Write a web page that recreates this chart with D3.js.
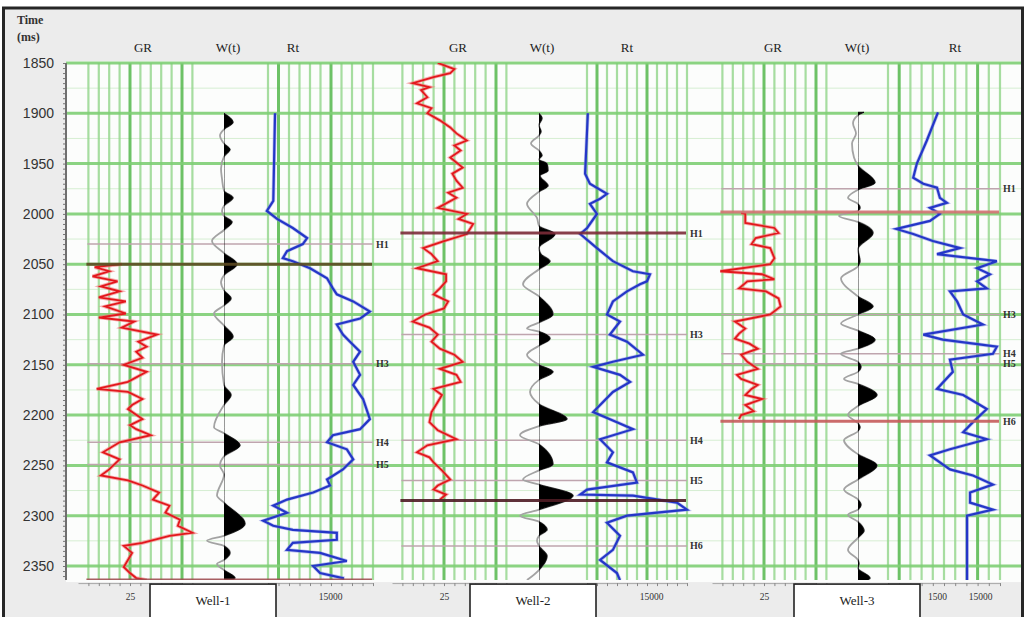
<!DOCTYPE html>
<html>
<head>
<meta charset="utf-8">
<script src="https://cdn.jsdelivr.net/npm/d3@7"></script>
<style>
  body { margin: 0; background: #fff; }
  svg { display: block; }
</style>
</head>
<body>
<svg id="chart" width="1027" height="617"></svg>
<script>
// ---- data ----
var timeTicks = [1850, 1900, 1950, 2000, 2050, 2100, 2150, 2200, 2250, 2300, 2350];
var minorGridTimes = [1875, 1925, 1975, 2025, 2075, 2125, 2175, 2225, 2275, 2325];
var trackNames = ["GR", "W(t)", "Rt"];
var wellNames = ["Well-1", "Well-2", "Well-3"];
var grGrid = [5, 10, 15, 20, 25, 30, 35, 40, 45, 50, 55];
var grMajor = [25, 50];
var grLabels = [25];
var rtGridSteps = [0, 1, 2, 3, 4, 5, 6, 7, 8, 9, 10];
var rtLabels1 = [15000];
var rtLabels2 = [15000];
var rtLabels3 = [1500, 15000];

// GR (API) vs time (ms)
var gr1 = [[2050,21],[2053,8],[2057,15],[2062,7],[2067,19],[2072,11],[2077,20],[2083,10],[2087,23],[2092,13],
  [2099,23],[2103,10],[2107,27],[2113,21],[2120,38],[2127,29],[2132,33],[2137,28],[2143,31],[2150,22],[2157,33],
  [2167,24],[2174,9],[2177,24],[2184,31],[2190,26],[2194,24],[2204,31],[2210,25],[2214,28],[2220,35],[2227,20],
  [2237,12],[2244,20],[2254,15],[2260,11],[2265,24],[2270,31],[2277,39],[2284,36],[2290,44],[2297,42],[2304,49],
  [2310,48],[2317,55],[2320,44],[2327,31],[2330,22],[2337,26],[2344,24],[2351,22],[2357,25],[2362,28],[2364,33]];
var gr2 = [[1850,22],[1856,30],[1860,28],[1864,20],[1870,10],[1874,18],[1877,14],[1884,17],[1890,12],[1895,19],
  [1900,17],[1907,23],[1914,28],[1920,31],[1927,36],[1932,30],[1937,33],[1944,28],[1954,34],[1960,29],[1967,31],
  [1974,34],[1979,27],[1984,31],[1994,22],[2000,36],[2005,32],[2010,39],[2020,36],[2027,25],[2034,15],[2040,19],
  [2047,22],[2054,12],[2060,26],[2067,26],[2074,23],[2080,20],[2087,27],[2094,25],[2100,16],[2107,10],[2113,18],
  [2120,22],[2127,19],[2134,23],[2140,30],[2147,34],[2154,23],[2160,31],[2167,33],[2174,20],[2180,24],[2187,22],
  [2197,19],[2207,18],[2215,22],[2224,31],[2230,17],[2237,12],[2242,18],[2247,20],[2255,24],[2264,28],[2270,22],
  [2274,20],[2279,26],[2284,23]];
var gr3 = [[1999,14],[2000,16],[2009,16],[2014,30],[2019,32],[2024,21],[2030,19],[2034,28],[2044,30],[2050,28],
  [2057,4],[2060,24],[2065,30],[2067,17],[2074,13],[2077,26],[2084,32],[2092,33],[2100,28],[2107,11],[2114,16],
  [2119,13],[2124,11],[2129,18],[2134,22],[2140,14],[2147,17],[2154,22],[2160,12],[2164,14],[2170,22],[2174,19],
  [2180,16],[2184,24],[2190,16],[2196,20],[2200,14],[2204,13]];

// W(t) seismic trace amplitude vs time (ms)
var wt1 = [[1900,0],[1909,0.45],[1916,0],[1922,-0.2],[1930,0],[1936,0.3],[1943,0],[1955,-0.15],[1965,-0.1],
  [1977,0],[1984,0.45],[1992,0],[1997,-0.1],[2002,0],[2008,0.4],[2016,0],[2027,-0.6],[2039,0],[2050,0.65],[2061,0],
  [2068,-0.15],[2076,0],[2084,0.35],[2091,0],[2099,-0.5],[2111,0],[2122,0.45],[2131,0],[2147,-0.1],[2170,0],
  [2180,0.35],[2190,0],[2212,-0.5],[2218,0],[2230,0.8],[2241,0],[2250,-0.2],[2259,0],[2280,-0.35],[2287,0],
  [2308,1.05],[2320,0],[2325,-0.85],[2330,0],[2337,0.3],[2344,0],[2348,-0.35],[2354,0],[2362,0.55],[2364,0.4]];
var wt2 = [[1900,0],[1905,0.15],[1912,0],[1918,0.1],[1922,0],[1930,-0.4],[1937,0],[1942,0.15],[1946,0],[1950,0.4],
  [1957,0.45],[1962,0.05],[1972,0.45],[1978,0],[1990,-0.6],[2004,-0.1],[2012,0],[2020,0.8],[2034,0],[2040,0.1],
  [2047,0.55],[2055,0],[2070,-0.8],[2082,0],[2100,0.7],[2108,0],[2114,-0.6],[2117,0],[2124,0.55],[2131,0],
  [2140,-0.6],[2150,0],[2157,0.7],[2165,0],[2177,-0.45],[2189,0],[2204,1.4],[2211,0],[2220,-0.95],[2229,0],
  [2249,0.7],[2255,0],[2264,-0.8],[2269,0],[2280,1.7],[2294,0],[2300,-0.95],[2306,0],[2314,0.4],[2320,0],
  [2325,-0.1],[2330,0],[2340,0.4],[2354,0],[2364,-0.6]];
var wt3 = [[1899,0.3],[1902,0],[1910,-0.25],[1920,-0.1],[1930,-0.3],[1944,-0.2],[1952,0],[1969,0.85],[1976,0],
  [1984,-0.5],[1990,0],[1994,0.1],[1997,0],[2002,-0.95],[2008,0],[2019,0.75],[2035,0],[2047,0.1],[2052,0],
  [2064,-0.85],[2082,0],[2092,0.75],[2100,0],[2109,-0.85],[2116,0],[2125,0.85],[2134,0],[2139,-0.85],[2147,0],
  [2152,0.15],[2157,0],[2164,-0.7],[2169,0],[2180,0.95],[2191,0],[2200,-0.5],[2208,0],[2212,0.1],[2216,0],
  [2225,-0.7],[2239,0],[2250,0.95],[2264,0],[2274,-0.7],[2284,0],[2289,0.15],[2294,0],[2299,-0.5],[2306,0],
  [2315,0.3],[2322,0],[2334,-0.5],[2344,0],[2348,0.05],[2352,0],[2362,0.6],[2364,0.5]];

// Rt (ohm.m) vs time (ms)
var rt1 = [[1900,790],[1987,720],[1997,510],[2005,880],[2014,2050],[2024,4400],[2030,3500],[2037,1500],[2044,1200],
  [2047,2050],[2054,5150],[2064,12800],[2074,17500],[2080,21600],[2087,52000],[2097,127000],[2104,75000],
  [2110,21600],[2120,30000],[2127,43800],[2137,75000],[2147,52000],[2160,75000],[2170,52000],[2184,88000],
  [2204,127000],[2214,75000],[2220,17500],[2227,12800],[2234,37000],[2244,52000],[2254,30000],[2264,12800],
  [2270,15000],[2277,6100],[2284,1500],[2290,720],[2297,1500],[2305,420],[2310,720],[2314,2050],[2317,21600],
  [2324,21600],[2327,2050],[2334,1500],[2337,8800],[2345,37000],[2350,6100],[2357,8800],[2362,30000],[2364,30000]];
var rt2 = [[1900,510],[1960,440],[1970,570],[1980,1420],[1985,980],[1990,570],[2000,830],[2014,490],[2020,340],
  [2034,830],[2047,1950],[2057,5700],[2060,14200],[2067,12100],[2070,8300],[2077,4150],[2087,1950],[2100,1420],
  [2107,2850],[2120,1660],[2127,4150],[2140,9750],[2147,1950],[2152,680],[2160,2850],[2167,4900],[2177,1950],
  [2197,680],[2207,2420],[2214,5700],[2224,980],[2237,1950],[2247,1420],[2257,5700],[2267,7070],[2274,490],
  [2279,340],[2280,5700],[2287,60000],[2294,103000],[2300,4150],[2307,1420],[2320,2850],[2334,1950],[2344,980],
  [2357,2420],[2364,2850]];
var rt3 = [[1899,1580],[1927,870],[1950,510],[1964,420],[1970,720],[1974,1500],[1984,1750],[1989,2550],[1994,1030],
  [2000,1750],[2007,1030],[2015,170],[2020,420],[2027,1200],[2034,5150],[2040,1500],[2047,37000],[2054,12800],
  [2060,25600],[2067,12800],[2074,21600],[2077,3000],[2087,4400],[2100,6100],[2110,17500],[2120,720],[2125,2050],
  [2132,37000],[2139,30000],[2145,3000],[2157,3500],[2174,1500],[2180,6100],[2194,21600],[2207,10300],[2217,6100],
  [2224,21600],[2234,3000],[2240,1030],[2254,3000],[2260,10300],[2269,30000],[2277,8800],[2287,8800],[2294,30000],
  [2300,7500],[2364,7500]];

// horizons (ms)
var topNames1 = ["H1", "H3", "H4", "H5"];
var topTimes1 = [2030, 2149, 2227, 2249];
var picks1 = [2050, 2364];
var topNames2 = ["H1", "H3", "H4", "H5", "H6"];
var topTimes2 = [2019, 2120, 2225, 2265, 2330];
var picks2 = [2019, 2285];
var topNames3 = ["H1", "H3", "H4", "H5", "H6"];
var topTimes3 = [1975, 2100, 2139, 2149, 2206];
var picks3 = [1998, 2206];

// ---- layout (pixels / styles) ----
var layout = [
  {gr0: 78, wx: 224, rtL: 268, rtR: 373, rtMajor: [1, 6], x15: 330, tag: 376, box: 213, hdr: [143, 228, 293],
   pick: ["#5c4a22", "#a04f52"]},
  {gr0: 392, wx: 539, rtL: 587, rtR: 687, rtMajor: [1, 6], x15: 651, tag: 690, box: 533, hdr: [458, 542, 627],
   pick: ["#7c2c38", "#4f1c24"]},
  {gr0: 712, wx: 858, rtL: 888, rtR: 1000, rtMajor: [1, 8], x15: 980, tag: 1003, box: 857, hdr: [773, 857, 955],
   pick: ["#d27272", "#c65c5c"]}
];
var wells = [
  {gr: gr1, wt: wt1, rt: rt1, names: topNames1, times: topTimes1, picks: picks1, rtLabels: rtLabels1},
  {gr: gr2, wt: wt2, rt: rt2, names: topNames2, times: topTimes2, picks: picks2, rtLabels: rtLabels2},
  {gr: gr3, wt: wt3, rt: rt3, names: topNames3, times: topTimes3, picks: picks3, rtLabels: rtLabels3}
];

var serif = "'Liberation Serif', 'Times New Roman', serif";
var sans = "'Liberation Sans', Arial, sans-serif";
var svg = d3.select("#chart");

var y = d3.scaleLinear().domain([1850, 2350]).range([63, 566]);
var tTop = 1850, tBot = 2364;
var plotL = 66, plotR = 1021;
var yTop = y(tTop), yBot = y(tBot);

// frame and plot background
svg.append("rect").attr("width", 1027).attr("height", 617).attr("fill", "#fff");
svg.append("rect").attr("x", 3.5).attr("y", 8).attr("width", 1019).attr("height", 640)
  .attr("fill", "#ececec").attr("stroke", "#262626").attr("stroke-width", 3);
svg.append("rect").attr("x", plotL).attr("y", yTop - 2).attr("width", plotR - plotL)
  .attr("height", yBot - yTop + 4).attr("fill", "#fcfdfc");

var defs = svg.append("defs");
defs.append("clipPath").attr("id", "plotClip").append("rect")
  .attr("x", plotL).attr("y", yTop).attr("width", plotR - plotL).attr("height", yBot - yTop);

// faint minor horizontal grid
svg.append("g").selectAll("line").data(minorGridTimes).join("line")
  .attr("x1", plotL).attr("x2", plotR).attr("y1", d => y(d)).attr("y2", d => y(d))
  .attr("stroke", "#d6eed2").attr("stroke-width", 1);

var vGrid = svg.append("g");
var marks = svg.append("g").attr("clip-path", "url(#plotClip)");
var overlay = svg.append("g");

wells.forEach(function(w, i) {
  var L = layout[i];
  var gr = d3.scaleLinear().domain([0, 50]).range([L.gr0, L.gr0 + 104]);
  var rt = d3.scaleLog().domain([1500, 15000]).range([L.x15 - 43, L.x15]);
  var wt = d3.scaleLinear().domain([-1, 1]).range([L.wx - 20, L.wx + 20]);
  var rtGrid = d3.scaleLinear().domain([0, 10]).range([L.rtL, L.rtR]);
  var left = gr(5) - 1;

  // vertical grid: GR track and Rt track
  vGrid.append("g").selectAll("line").data(grGrid).join("line")
    .attr("x1", d => gr(d)).attr("x2", d => gr(d)).attr("y1", yTop).attr("y2", yBot)
    .attr("stroke", d => grMajor.includes(d) ? "#55b84c" : "#98d890")
    .attr("stroke-width", d => grMajor.includes(d) ? 3 : 2.2).attr("opacity", 0.85);
  vGrid.append("g").selectAll("line").data(rtGridSteps).join("line")
    .attr("x1", d => rtGrid(d)).attr("x2", d => rtGrid(d)).attr("y1", yTop).attr("y2", yBot)
    .attr("stroke", d => L.rtMajor.includes(d) ? "#55b84c" : "#98d890")
    .attr("stroke-width", d => L.rtMajor.includes(d) ? 3 : 2.2).attr("opacity", 0.85);

  // thin horizon lines
  var thin = w.times.filter(t => !w.picks.includes(t));
  marks.append("g").selectAll("line").data(thin).join("line")
    .attr("x1", left).attr("x2", L.tag - 3).attr("y1", d => y(d)).attr("y2", d => y(d))
    .attr("stroke", "#bfa5ae").attr("stroke-width", 1.5);

  // W(t) wiggle with black positive lobes
  var cid = "wclip" + i;
  defs.append("clipPath").attr("id", cid).append("rect")
    .attr("x", L.wx).attr("y", yTop).attr("width", 60).attr("height", yBot - yTop);
  var wLine = d3.line().x(d => wt(d[1])).y(d => y(d[0])).curve(d3.curveMonotoneY);
  var wArea = d3.area().y(d => y(d[0])).x0(L.wx).x1(d => wt(d[1])).curve(d3.curveMonotoneY);
  marks.append("path").datum(w.wt).attr("d", wLine)
    .attr("fill", "none").attr("stroke", "#a3a3a3").attr("stroke-width", 1.8);
  marks.append("path").datum(w.wt).attr("d", wArea).attr("clip-path", "url(#" + cid + ")")
    .attr("fill", "#000").attr("stroke", "#000").attr("stroke-width", 0.8);

  // GR curve
  var grLine = d3.line().x(d => gr(d[1])).y(d => y(d[0]));
  marks.append("path").datum(w.gr).attr("d", grLine)
    .attr("fill", "none").attr("stroke", "#f27c7c").attr("stroke-width", 3.6).attr("opacity", 0.6);
  marks.append("path").datum(w.gr).attr("d", grLine)
    .attr("fill", "none").attr("stroke", "#e3171c").attr("stroke-width", 1.8);

  // Rt curve
  var rtLine = d3.line().x(d => rt(d[1])).y(d => y(d[0]));
  marks.append("path").datum(w.rt).attr("d", rtLine)
    .attr("fill", "none").attr("stroke", "#7d88e0").attr("stroke-width", 3.6).attr("opacity", 0.5);
  marks.append("path").datum(w.rt).attr("d", rtLine)
    .attr("fill", "none").attr("stroke", "#2436c8").attr("stroke-width", 2.2);

  // picked horizons (thick)
  marks.append("g").selectAll("line").data(w.picks).join("line")
    .attr("x1", left - 1).attr("x2", L.tag - 4).attr("y1", d => y(d)).attr("y2", d => y(d))
    .attr("stroke", (d, k) => L.pick[k]).attr("stroke-width", 3).attr("opacity", 0.9);

  // horizon labels
  overlay.append("g").selectAll("text").data(w.names).join("text")
    .attr("x", L.tag).attr("y", (d, k) => y(w.times[k]) + 3.5)
    .attr("font-family", serif).attr("font-size", 10).attr("font-weight", "bold").attr("fill", "#333")
    .text(d => d);

  // track headers
  overlay.append("g").selectAll("text").data(trackNames).join("text")
    .attr("x", (d, k) => L.hdr[k]).attr("y", 52).attr("text-anchor", "middle")
    .attr("font-family", serif).attr("font-size", 13).attr("fill", "#222")
    .text(d => d);

  // bottom scales
  var grAx = overlay.append("g").attr("transform", "translate(0," + (yBot + 3) + ")")
    .call(d3.axisBottom(gr).tickValues(grGrid).tickSize(3).tickSizeOuter(0).tickPadding(7)
      .tickFormat(d => grLabels.includes(d) ? d : ""));
  var rtAx = overlay.append("g").attr("transform", "translate(0," + (yBot + 3) + ")")
    .call(d3.axisBottom(rtGrid).tickValues(rtGridSteps).tickSize(3).tickSizeOuter(0).tickFormat(""));
  var rtLab = overlay.append("g").attr("transform", "translate(0," + (yBot + 3) + ")")
    .call(d3.axisBottom(rt).tickValues(w.rtLabels).tickSize(0).tickPadding(10).tickFormat(d3.format("d")));
  rtLab.select(".domain").remove();
  [grAx, rtAx, rtLab].forEach(function(a) {
    a.select(".domain").attr("stroke", "#a9a9a9");
    a.selectAll(".tick line").attr("stroke", "#888");
    a.selectAll("text").attr("font-family", serif).attr("font-size", 9.5).attr("fill", "#333");
  });

  // well name box
  overlay.append("rect").attr("x", L.box - 63).attr("y", yBot + 4).attr("width", 126).attr("height", 40)
    .attr("fill", "#fff").attr("stroke", "#222").attr("stroke-width", 1.6);
  overlay.append("text").attr("x", L.box).attr("y", yBot + 25).attr("text-anchor", "middle")
    .attr("font-family", serif).attr("font-size", 13).attr("fill", "#222").text(wellNames[i]);
});

// major horizontal grid on top of verticals
vGrid.append("g").selectAll("line").data(timeTicks).join("line")
  .attr("x1", plotL).attr("x2", plotR).attr("y1", d => y(d)).attr("y2", d => y(d))
  .attr("stroke", "#7fcf75").attr("stroke-width", 3).attr("opacity", 0.9);

// time axis
var yMinor = svg.append("g").attr("transform", "translate(" + plotL + ",0)")
  .call(d3.axisLeft(y).tickValues(d3.range(tTop, tBot + 1, 5)).tickSize(3).tickSizeOuter(0).tickFormat(""));
yMinor.select(".domain").remove();
yMinor.selectAll(".tick line").attr("stroke", "#777");
svg.append("line").attr("x1", plotL).attr("x2", plotL).attr("y1", yTop).attr("y2", yBot)
  .attr("stroke", "#6f6f6f").attr("stroke-width", 2);
var yAxis = svg.append("g").attr("transform", "translate(" + plotL + ",0)")
  .call(d3.axisLeft(y).tickValues(timeTicks).tickSize(0).tickPadding(12).tickFormat(d3.format("d")));
yAxis.select(".domain").remove();
yAxis.selectAll("text").attr("font-family", sans).attr("font-size", 14).attr("fill", "#333");

svg.append("text").attr("x", 17).attr("y", 24).attr("font-family", serif).attr("font-size", 12)
  .attr("font-weight", "bold").attr("fill", "#333").text("Time");
svg.append("text").attr("x", 17).attr("y", 41).attr("font-family", serif).attr("font-size", 12)
  .attr("font-weight", "bold").attr("fill", "#333").text("(ms)");
</script>
</body>
</html>
